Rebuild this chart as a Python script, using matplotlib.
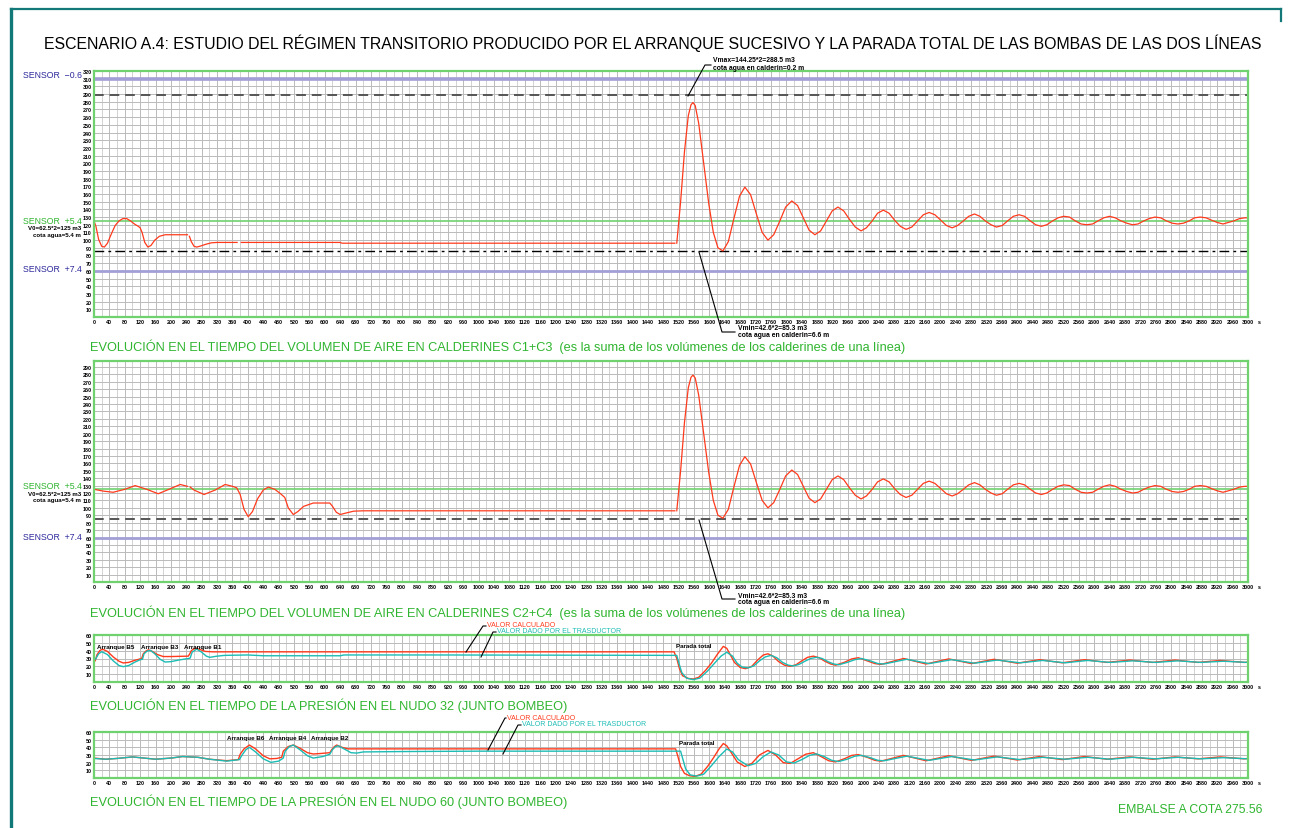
import matplotlib
matplotlib.use("Agg")
import matplotlib.pyplot as plt
import numpy as np
from matplotlib.lines import Line2D

nan = np.nan
plt.rcParams['font.family'] = ['Liberation Sans', 'DejaVu Sans']

# ---------------- data ----------------
# volumen de aire tras la parada total (igual en ambas lineas)
t_osc = [1515, 1525, 1535, 1545, 1552, 1557, 1563, 1572, 1585, 1598, 1610, 1622, 1635,
         1649, 1663, 1678, 1692, 1707, 1722, 1737, 1752, 1767, 1783, 1798, 1814,
         1829, 1844, 1859, 1874, 1889, 1904, 1919, 1934, 1949, 1964, 1979, 1994,
         2008, 2023, 2037, 2052, 2067, 2081, 2096, 2111, 2126, 2141, 2156, 2171,
         2186, 2201, 2216, 2231, 2245, 2260, 2274, 2289, 2303, 2317, 2332, 2346,
         2361, 2375, 2390, 2405, 2419, 2434, 2448, 2463, 2477, 2492, 2506, 2521,
         2536, 2551, 2566, 2581, 2596, 2610, 2625, 2640, 2655, 2670, 2685, 2700,
         2714, 2729, 2743, 2758, 2773, 2788, 2803, 2818, 2832, 2847, 2861, 2876,
         2891, 2905, 2920, 2935, 2949, 2963, 2978, 2992, 3000]
v_osc = [96, 150, 215, 262, 276, 279, 275, 252, 200, 148, 110, 90, 86,
         98, 127, 157, 169, 159, 134, 110, 100, 107, 125, 143, 151,
         145, 129, 113, 107, 112, 125, 138, 143, 138, 127, 117, 112,
         116, 125, 135, 139, 135, 126, 118, 114, 117, 125, 133, 136,
         133, 126, 119, 116, 119, 125, 131, 134, 131, 125, 120, 117,
         119, 125, 131, 133, 131, 125, 120, 118, 120, 125, 129, 131,
         130, 125, 121, 120, 121, 125, 129, 131, 129, 125, 122, 120,
         121, 125, 128, 130, 129, 125, 122, 121, 122, 125, 129, 130,
         129, 126, 123, 121, 123, 125, 128, 129, 129]

# calderines C1+C3, arranque sucesivo
t_c13 = [0, 5, 12, 20, 27, 35, 45, 55, 65, 75, 85, 95, 105, 115, 120, 125, 132, 140,
         148, 158, 170, 185, 200, 243, 245, 248, 253, 260, 267, 275, 290, 305, 320,
         372, 375, 383, 640, 645, 1510]
v_c13 = [125, 118, 101, 92, 91, 96, 108, 119, 125, 128, 128, 125, 121, 118, 116, 110,
         97, 91, 93, 100, 105, 107, 107, 107, nan, 105, 98, 92, 91, 92, 94.5, 96.5, 97,
         97, nan, 97, 97, 96, 96]

# calderines C2+C4, arranque sucesivo
t_c24 = [0, 25, 50, 80, 107, 137, 167, 195, 224, 243, 246, 250, 260, 286, 315, 341,
         360, 371, 380, 390, 401, 412, 425, 440, 453, 470, 485, 496, 505, 518, 530,
         545, 570, 613, 620, 630, 640, 655, 675, 700, 1510]
v_c24 = [125, 122.5, 121, 125, 130, 125, 119, 125, 131.5, 129, nan, 128, 124, 118,
         124, 131.5, 129, 127, 118, 98, 88, 95, 112, 124, 128, 125, 119, 114, 100, 91,
         95, 102, 106.5, 106.5, 102, 94, 91, 93, 95.5, 96, 96]

# presion nudo 32 (m)
t_n32_calc = [0, 3, 8, 15, 22, 35, 50, 65, 76, 90, 105, 120, 124, 128, 135, 141, 150,
              165, 180, 200, 245, 249, 253, 260, 267, 278, 290, 310, 1508, 1515, 1522,
              1530, 1545, 1558, 1572, 1590, 1605, 1620, 1636, 1645, 1655, 1665, 1680,
              1694, 1710, 1725, 1740, 1752, 1765, 1780, 1795, 1810, 1825, 1840, 1855,
              1870, 1885, 1900, 1915, 1928, 1950, 1970, 1987, 2010, 2030, 2046, 2105,
              2163, 2222, 2281, 2340, 2400, 2458, 2517, 2575, 2634, 2693, 2752, 2810,
              2870, 2928, 2990, 3000]
v_n32_calc = [26, 27, 35, 40, 42, 39, 32, 26.5, 24.3, 25, 27.5, 29.5, 30, 36, 39.5, 41,
              39.5, 35, 32.5, 32.5, 33, 36, 40, 42.5, 43, 41, 39, 38.5, 38.5, 30, 17,
              8, 4.5, 3.8, 6, 15, 24, 35, 45.5, 43, 34, 25, 18.5, 17, 20, 28, 34.5, 36,
              33, 26, 21.5, 20, 22, 27, 31.5, 33, 31, 26.5, 23, 21.5, 25, 29.5, 31, 27,
              23.5, 22.5, 30, 23, 29.5, 23.5, 29, 24, 28.5, 24.5, 28.5, 25, 28, 25, 28,
              25, 27.5, 25, 25.3]
t_n32_med = [0, 5, 12, 20, 35, 50, 65, 76, 90, 105, 120, 126, 130, 138, 147, 158, 172,
             185, 200, 220, 245, 250, 255, 267, 280, 292, 301, 320, 340, 400, 440, 640,
             650, 900, 1515, 1520, 1528, 1540, 1558, 1575, 1595, 1615, 1630, 1645, 1660,
             1672, 1685, 1700, 1715, 1730, 1745, 1760, 1775, 1790, 1805, 1818, 1833,
             1848, 1863, 1878, 1893, 1908, 1923, 1936, 1958, 1978, 1995, 2018, 2038,
             2054, 2113, 2171, 2230, 2289, 2348, 2408, 2466, 2525, 2583, 2642, 2701,
             2760, 2818, 2878, 2936, 3000]
v_n32_med = [28, 30, 36, 38.7, 35, 27, 21, 19.6, 21, 25, 28.5, 29, 36, 39.5, 40.3, 36,
             29, 25.5, 26, 28, 30, 30.5, 38, 42, 38, 33, 31.5, 33, 34, 34.5, 33.5, 33.5,
             34.5, 34.5, 34, 25, 12, 5, 3, 5, 14, 25, 33, 38, 33, 24, 19, 18, 20.5, 27,
             32, 34, 31, 25, 21.5, 20.5, 22.5, 26.5, 30, 31.5, 30, 26, 23, 22, 25, 28.5,
             30, 27, 23.5, 23, 29, 23.5, 28.5, 24, 28, 24.5, 27.5, 24.5, 27.5, 25, 27,
             25, 27, 25, 26.5, 25]

# presion nudo 60 (m)
t_n60_calc = [0, 30, 60, 100, 130, 160, 200, 230, 270, 300, 345, 375, 380, 390, 404,
              420, 440, 457, 475, 488, 492, 505, 518, 535, 555, 570, 590, 613, 618, 625,
              631, 645, 660, 1512, 1518, 1525, 1535, 1548, 1562, 1578, 1595, 1610, 1625,
              1636, 1645, 1658, 1672, 1692, 1710, 1730, 1752, 1772, 1792, 1810, 1830,
              1850, 1870, 1890, 1910, 1928, 1950, 1970, 1987, 2010, 2030, 2046, 2105,
              2163, 2222, 2281, 2340, 2400, 2458, 2517, 2575, 2634, 2693, 2752, 2810,
              2870, 2928, 2990, 3000]
v_n60_calc = [26, 24.5, 25.5, 27.5, 26, 24.5, 26, 28, 27, 24.5, 22.6, 24, 31, 38, 43,
              38, 29, 25, 25.5, 27, 35, 41, 43, 39, 33, 31.3, 32, 33, 37, 41, 43, 40, 38,
              38, 28, 15, 6, 3, 2, 5, 15, 26, 38, 45, 42, 32, 21, 15, 19, 30, 36, 30, 20,
              19, 25, 31, 33, 28, 22.5, 21, 25, 29.5, 30.5, 27, 23, 22, 29.5, 22.5, 29,
              23, 28.5, 23.5, 28, 24, 28, 24.5, 27.5, 24.5, 27.5, 25, 27.5, 25, 25.5]
t_n60_med = [0, 30, 60, 100, 130, 160, 200, 230, 270, 300, 345, 378, 385, 395, 404, 420,
             440, 460, 480, 492, 497, 508, 518, 535, 555, 570, 595, 613, 620, 628, 635,
             650, 668, 683, 700, 800, 1000, 1525, 1530, 1538, 1550, 1567, 1585, 1605,
             1625, 1645, 1660, 1675, 1700, 1720, 1740, 1760, 1780, 1800, 1820, 1840,
             1860, 1878, 1898, 1918, 1936, 1958, 1978, 1995, 2018, 2038, 2054, 2113,
             2171, 2230, 2289, 2348, 2408, 2466, 2525, 2583, 2642, 2701, 2760, 2818,
             2878, 2936, 3000]
v_n60_med = [25.5, 24.5, 25.5, 27.5, 26, 24.5, 26, 28, 27, 24.5, 22, 24, 30, 37, 40, 34,
             25, 20.4, 22, 26, 35, 41, 43, 37, 29, 26, 28, 31, 37, 41, 42, 38, 33, 32.5,
             34, 34.5, 35, 35, 26, 12, 4, 2.5, 5, 16, 28, 37.8, 34, 24, 16, 19, 28, 34,
             30, 21, 19.5, 24, 29.5, 31.5, 28, 23, 21.5, 24.5, 28.5, 29.5, 26.5, 23,
             22.5, 28.5, 23, 28, 23.5, 27.5, 24, 27, 24.5, 27, 24.5, 27, 25, 27, 25,
             26.5, 25]

# niveles de referencia en calderines (m3)
sensor_m06 = 310
v_max = 288.5
sensor_p54 = 125
v_min = 85.3
sensor_p74 = 60

x_ticks = list(range(0, 3001, 40))
x_labels = [str(v) for v in x_ticks]

RED = "#ff3a1c"
CYAN = "#1cbcb4"
GRID_GREEN = "#6fd26f"
TXT_GREEN = "#2fb52f"
PURPLE = "#a29ed6"
NAVY = "#2e2a9c"
TEAL = "#127878"

W, H = 1292, 829
fig = plt.figure(figsize=(W / 100, H / 100), dpi=100)
fig.patch.set_facecolor("white")


def px(x, y):
    return x / W, 1 - y / H


def panel(y_top, y_bot, ymax, ytick_max):
    x0, y0 = px(94, y_bot)
    x1, y1 = px(1248, y_top)
    ax = fig.add_axes([x0, y0, x1 - x0, y1 - y0])
    ax.set_xlim(0, 3000)
    ax.set_ylim(0, ymax)
    ax.set_xticks(x_ticks)
    ax.set_xticklabels(x_labels, fontsize=3.9, fontweight="bold")
    ax.set_xticks(range(20, 3000, 40), minor=True)
    ax.set_yticks(range(10, ytick_max + 1, 10))
    ax.set_yticklabels([str(v) for v in range(10, ytick_max + 1, 10)],
                       fontsize=3.9, fontweight="bold")
    ax.tick_params(axis="both", which="both", length=0, pad=1.5)
    ax.grid(True, which="major", color="#bababa", lw=0.7)
    ax.grid(True, which="minor", axis="x", color="#d2d2d2", lw=0.7)
    for s in ax.spines.values():
        s.set_color(GRID_GREEN)
        s.set_linewidth(1.6)
    ax.set_axisbelow(True)
    ax.annotate("s", xy=(3000, 0), xycoords="data", xytext=(7, -1.6),
                textcoords="offset points", fontsize=3.9, fontweight="bold",
                ha="left", va="top")
    return ax


def ftext(x, y, s, **kw):
    fig.text(*px(x, y), s, **kw)


def leader(points):
    xs = [p[0] / W for p in points]
    ys = [1 - p[1] / H for p in points]
    fig.add_artist(Line2D(xs, ys, color="black", lw=0.8))


# ---- panel 1: C1+C3 ----
ax1 = panel(72, 318, 320, 320)
ax1.axhline(sensor_m06, color=PURPLE, lw=2.6)
ax1.axhline(v_max, color="#555555", lw=1.4, dashes=(5, 3))
ax1.axhline(sensor_p54, color=GRID_GREEN, lw=1.2)
ax1.axhline(v_min, color="black", lw=1.0, dashes=(7, 3, 2, 3))
ax1.axhline(sensor_p74, color=PURPLE, lw=2.0)
ax1.plot(t_c13, v_c13, color=RED, lw=0.9)
ax1.plot(t_osc, v_osc, color=RED, lw=0.9)

# ---- panel 2: C2+C4 ----
ax2 = panel(362, 583, 298, 290)
ax2.axhline(sensor_p54, color=GRID_GREEN, lw=1.2)
ax2.axhline(v_min, color="#555555", lw=1.4, dashes=(5, 3))
ax2.axhline(sensor_p74, color=PURPLE, lw=2.0)
ax2.plot(t_c24, v_c24, color=RED, lw=0.9)
ax2.plot(t_osc, v_osc, color=RED, lw=0.9)

# ---- panel 3: nudo 32 ----
ax3 = panel(636, 683, 60, 60)
ax3.plot(t_n32_calc, v_n32_calc, color=RED, lw=1.0)
ax3.plot(t_n32_med, v_n32_med, color=CYAN, lw=1.0)

# ---- panel 4: nudo 60 ----
ax4 = panel(733, 779, 60, 60)
ax4.plot(t_n60_calc, v_n60_calc, color=RED, lw=1.0)
ax4.plot(t_n60_med, v_n60_med, color=CYAN, lw=1.0)

# ---- texts ----
ftext(44, 43, "ESCENARIO A.4: ESTUDIO DEL RÉGIMEN TRANSITORIO PRODUCIDO POR EL ARRANQUE SUCESIVO Y LA PARADA TOTAL DE LAS BOMBAS DE LAS DOS LÍNEAS",
      fontsize=11.4, ha="left", va="center", color="black")

lab = dict(fontsize=6.3, va="center", ha="right")
small = dict(fontsize=4.4, va="center", ha="right", fontweight="bold")
ftext(82, 75, "SENSOR  −0.6", color=NAVY, **lab)
ftext(82, 221, "SENSOR  +5.4", color=TXT_GREEN, **lab)
ftext(81, 229, "V0=62.5*2=125 m3", **small)
ftext(81, 236, "cota agua=5.4 m", **small)
ftext(82, 269, "SENSOR  +7.4", color=NAVY, **lab)
ftext(82, 487, "SENSOR  +5.4", color=TXT_GREEN, **lab)
ftext(81, 494, "V0=62.5*2=125 m3", **small)
ftext(81, 501, "cota agua=5.4 m", **small)
ftext(82, 537, "SENSOR  +7.4", color=NAVY, **lab)

note = dict(fontsize=4.9, va="center", ha="left", fontweight="bold")
ftext(713, 61, "Vmax=144.25*2=288.5 m3", **note)
ftext(713, 68, "cota agua en calderin=0.2 m", **note)
leader([(688, 97), (705, 66), (711, 66)])
ftext(738, 329, "Vmin=42.6*2=85.3 m3", **note)
ftext(738, 336, "cota agua en calderin=6.6 m", **note)
leader([(699, 253), (722, 333), (735, 333)])
ftext(738, 597, "Vmin=42.6*2=85.3 m3", **note)
ftext(738, 603, "cota agua en calderin=6.6 m", **note)
leader([(699, 521), (722, 600), (735, 600)])

cap = dict(fontsize=9.2, va="center", ha="left", color=TXT_GREEN)
ftext(90, 347, "EVOLUCIÓN EN EL TIEMPO DEL VOLUMEN DE AIRE EN CALDERINES C1+C3  (es la suma de los volúmenes de los calderines de una línea)", **cap)
ftext(90, 613, "EVOLUCIÓN EN EL TIEMPO DEL VOLUMEN DE AIRE EN CALDERINES C2+C4  (es la suma de los volúmenes de los calderines de una línea)", **cap)
ftext(90, 706, "EVOLUCIÓN EN EL TIEMPO DE LA PRESIÓN EN EL NUDO 32 (JUNTO BOMBEO)", **cap)
ftext(90, 802, "EVOLUCIÓN EN EL TIEMPO DE LA PRESIÓN EN EL NUDO 60 (JUNTO BOMBEO)", **cap)
ftext(1262, 810, "EMBALSE A COTA 275.56", fontsize=8.8, va="center", ha="right",
      color=TXT_GREEN)

arr = dict(fontsize=4.5, va="center", ha="left", fontweight="bold")
ftext(97, 648, "Arranque B5", **arr)
ftext(141, 648, "Arranque B3", **arr)
ftext(184, 648, "Arranque B1", **arr)
ftext(676, 647, "Parada total", **arr)
ftext(227, 739, "Arranque B6", **arr)
ftext(269, 739, "Arranque B4", **arr)
ftext(311, 739, "Arranque B2", **arr)
ftext(679, 744, "Parada total", **arr)

leg = dict(fontsize=5.0, va="center", ha="left")
ftext(487, 626, "VALOR CALCULADO", color=RED, **leg)
ftext(497, 632, "VALOR DADO POR EL TRASDUCTOR", color=CYAN, **leg)
leader([(466, 653), (483, 627), (486, 627)])
leader([(481, 658), (493, 633), (496, 633)])
ftext(507, 718, "VALOR CALCULADO", color=RED, **leg)
ftext(522, 725, "VALOR DADO POR EL TRASDUCTOR", color=CYAN, **leg)
leader([(488, 751), (505, 719), (506, 719)])
leader([(503, 755), (518, 726), (521, 726)])

# sheet frame
fig.add_artist(Line2D([11 / W, 11 / W], [0, 1 - 10 / H], color=TEAL, lw=2.4))
fig.add_artist(Line2D([11 / W, 1281 / W], [1 - 10 / H, 1 - 10 / H], color=TEAL, lw=1.6))
fig.add_artist(Line2D([1281 / W, 1281 / W], [1 - 10 / H, 1 - 22 / H], color=TEAL, lw=1.6))

fig.savefig("out.png", dpi=100, facecolor="white")
